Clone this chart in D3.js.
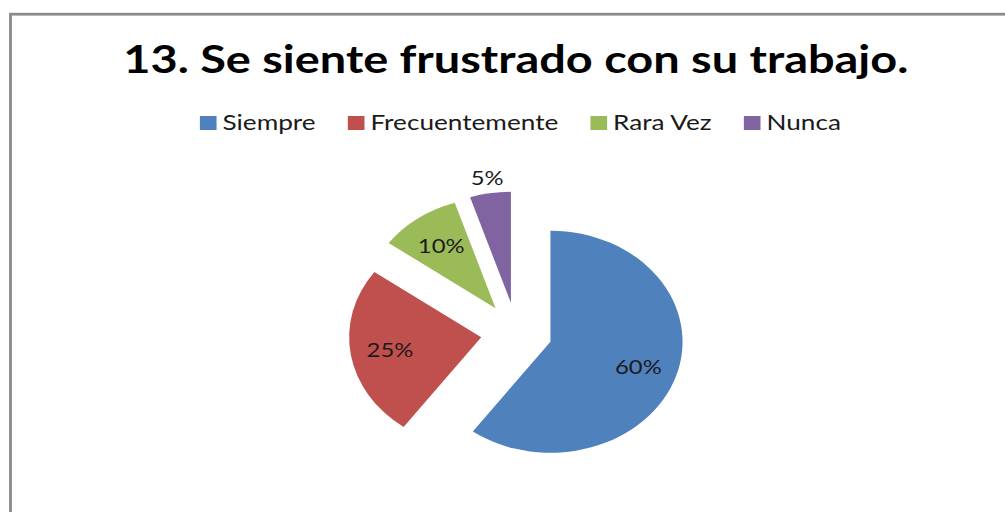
<!DOCTYPE html>
<html>
<head>
<meta charset="utf-8">
<script src="https://cdn.jsdelivr.net/npm/d3@7"></script>
<style>
  html, body { margin: 0; padding: 0; background: #ffffff; }
  svg { display: block; }
</style>
</head>
<body>
<svg id="chart" width="1005" height="512"></svg>
<script>
// ---- data ----
const titleText = "13. Se siente frustrado con su trabajo.";
const categories = ["Siempre", "Frecuentemente", "Rara Vez", "Nunca"];
const values = [60, 25, 10, 5];
const colors = ["#4F81BD", "#C0504D", "#9BBB59", "#8064A2"];

// ---- layout ----
const W = 1005, H = 512;
const SX = 1.19;           // horizontal stretch of the original picture
const cx = 516.5, cy = 332.5;
const R = 111;
const explode = 30;

const svg = d3.select("#chart");

// frame
svg.append("rect")
  .attr("x", 10.5).attr("y", 14.2)
  .attr("width", W + 20).attr("height", H + 20)
  .attr("fill", "#ffffff")
  .attr("stroke", "#8a8a8a").attr("stroke-width", 2.8);

// title
svg.append("text")
  .attr("x", 123.3).attr("y", 72.7)
  .attr("font-family", "Lato, 'Open Sans', sans-serif")
  .attr("font-weight", "bold")
  .attr("font-size", 39)
  .attr("fill", "#000000")
  .attr("textLength", 785)
  .attr("lengthAdjust", "spacingAndGlyphs")
  .text(titleText);

// legend
const legendG = svg.append("g");
const inner = legendG.append("g").attr("transform", `scale(${SX},1)`);
const sq = 14, gapSq = 5, gapItem = 27;
let xPos = 0;
categories.forEach((c, i) => {
  const it = inner.append("g").attr("transform", `translate(${xPos},0)`);
  it.append("rect")
    .attr("x", 0).attr("y", -14).attr("width", sq).attr("height", sq)
    .attr("fill", colors[i]);
  const t = it.append("text")
    .attr("x", sq + gapSq).attr("y", 0)
    .attr("font-family", "Lato, 'Open Sans', sans-serif")
    .attr("font-size", 22)
    .attr("fill", "#1a1a1a")
    .text(c);
  const tw = t.node().getComputedTextLength();
  xPos += sq + gapSq + tw + (i < categories.length - 1 ? gapItem : 0);
});
const legendWidth = xPos * SX;
legendG.attr("transform", `translate(${520.4 - legendWidth / 2},130)`);

// pie
const total = d3.sum(values);
const pie = d3.pie().sort(null).value(d => d)(values);
const arc = d3.arc().innerRadius(0).outerRadius(R);
const labelArcIn = d3.arc().innerRadius(0.7 * R).outerRadius(0.7 * R);
const labelArcOut = d3.arc().innerRadius(1.15 * R).outerRadius(1.15 * R);

const pieG = svg.append("g")
  .attr("transform", `translate(${cx},${cy}) scale(${SX},1)`);

const slices = pieG.selectAll("g.slice")
  .data(pie)
  .enter().append("g")
  .attr("class", "slice")
  .attr("transform", d => {
    const a = (d.startAngle + d.endAngle) / 2;
    return `translate(${Math.sin(a) * explode},${-Math.cos(a) * explode})`;
  });

slices.append("path")
  .attr("d", arc)
  .attr("fill", (d, i) => colors[i]);

slices.append("text")
  .attr("transform", d => {
    const small = d.value / total < 0.07;
    const p = (small ? labelArcOut : labelArcIn).centroid(d);
    return `translate(${p[0]},${p[1]})`;
  })
  .attr("text-anchor", "middle")
  .attr("dominant-baseline", "central")
  .attr("font-family", "Lato, 'Open Sans', sans-serif")
  .attr("font-size", 20)
  .attr("fill", "#1a1a1a")
  .text(d => Math.round(d.value / total * 100) + "%");
</script>
</body>
</html>
